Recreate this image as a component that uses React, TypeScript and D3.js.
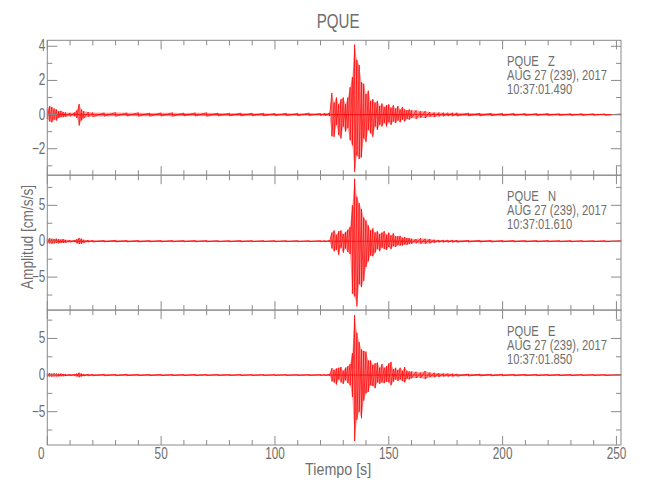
import React from 'react';
import * as d3 from 'd3';

// ---------- DATA ----------
const stationName = 'PQUE';
const components = ['Z', 'N', 'E'];
const startTimes = ['10:37:01.490', '10:37:01.610', '10:37:01.850'];
const dateLabel = 'AUG 27 (239), 2017';
const xLabel = 'Tiempo [s]';
const yLabel = 'Amplitud [cm/s/s]';

const timeDomain = [0, 252];
const xMajorTicks = [0, 50, 100, 150, 200, 250];
const xMajorLabels = ['0', '50', '100', '150', '200', '250'];
const xMinorTicks = [10, 20, 30, 40, 60, 70, 80, 90, 110, 120, 130, 140, 160, 170, 180, 190, 210, 220, 230, 240];

const zDomain = [-3.55, 4.35];
const zMajorTicks = [-2, 0, 2, 4];
const zMajorLabels = ['−2', '0', '2', '4'];
const zMinorTicks = [-3, -1, 1, 3];

const nDomain = [-9.6, 9.2];
const eDomain = [-9.55, 8.87];
const neMajorTicks = [-5, 0, 5];
const neMajorLabels = ['−5', '0', '5'];
const neMinorTicks = [-7.5, -2.5, 2.5, 7.5];

// envelope of each trace: [time (s), max, min]
const zTrace = [
  [0, 0.30, -0.25], [1, 0.50, -0.40], [2, 0.45, -0.45], [3, 0.35, -0.30], [4, 0.30, -0.35],
  [5, 0.20, -0.20], [6, 0.22, -0.15], [7, 0.15, -0.15], [8, 0.12, -0.12], [10, 0.10, -0.10],
  [12, 0.12, -0.10], [13, 0.25, -0.20], [14, 0.62, -0.64], [15, 0.30, -0.35], [16, 0.20, -0.22],
  [18, 0.15, -0.12], [20, 0.12, -0.12], [25, 0.10, -0.10], [30, 0.12, -0.10], [35, 0.10, -0.09],
  [40, 0.11, -0.10], [45, 0.09, -0.10], [50, 0.10, -0.09], [55, 0.11, -0.10], [60, 0.09, -0.08],
  [65, 0.10, -0.09], [70, 0.11, -0.10], [75, 0.09, -0.08], [80, 0.08, -0.08], [85, 0.09, -0.08],
  [90, 0.08, -0.07], [95, 0.08, -0.08], [100, 0.07, -0.07], [105, 0.08, -0.07], [110, 0.07, -0.07],
  [115, 0.09, -0.06], [120, 0.07, -0.06], [122, 0.08, -0.07], [124, 0.10, -0.08],
  [125, 1.27, -1.27], [126, 0.70, -1.30], [127, 1.00, -0.60], [128, 0.60, -1.20], [129, 0.90, -1.40],
  [130, 1.00, -0.70], [131, 0.60, -1.00], [132, 1.00, -0.80], [133, 1.60, -1.50], [134, 2.20, -1.80],
  [135, 4.10, -3.35], [136, 3.20, -2.40], [137, 2.90, -2.60], [138, 1.90, -2.50], [139, 1.80, -1.40],
  [140, 1.20, -1.60], [141, 1.40, -0.90], [142, 0.80, -1.10], [143, 0.90, -1.30], [144, 0.70, -0.70],
  [145, 0.80, -0.90], [146, 0.50, -0.60], [147, 0.65, -0.70], [148, 0.45, -0.50], [149, 0.55, -0.70],
  [150, 0.60, -0.45], [151, 0.40, -0.60], [152, 0.55, -0.40], [153, 0.35, -0.50], [154, 0.50, -0.35],
  [155, 0.30, -0.45], [156, 0.45, -0.30], [157, 0.30, -0.40], [158, 0.25, -0.25], [159, 0.30, -0.30],
  [160, 0.25, -0.20], [162, 0.25, -0.25], [164, 0.20, -0.18], [166, 0.20, -0.20], [168, 0.15, -0.13],
  [170, 0.12, -0.15], [172, 0.12, -0.10], [174, 0.11, -0.10], [176, 0.10, -0.09], [178, 0.10, -0.09],
  [180, 0.10, -0.09], [185, 0.09, -0.08], [190, 0.08, -0.08], [195, 0.08, -0.07], [200, 0.07, -0.07],
  [205, 0.07, -0.06], [210, 0.06, -0.06], [215, 0.06, -0.06], [220, 0.06, -0.05], [225, 0.05, -0.05],
  [230, 0.05, -0.05], [235, 0.05, -0.05], [240, 0.05, -0.04], [245, 0.04, -0.04], [252, 0.04, -0.04],
];

const nTrace = [
  [0, 0.30, -0.30], [1, 0.40, -0.30], [2, 0.35, -0.35], [3, 0.30, -0.30], [4, 0.35, -0.25],
  [5, 0.30, -0.30], [6, 0.25, -0.25], [7, 0.30, -0.25], [8, 0.20, -0.20], [10, 0.15, -0.15],
  [12, 0.15, -0.12], [13, 0.30, -0.30], [14, 0.45, -0.40], [15, 0.35, -0.35], [16, 0.20, -0.20],
  [18, 0.15, -0.12], [20, 0.12, -0.12], [25, 0.10, -0.10], [30, 0.12, -0.10], [35, 0.10, -0.10],
  [40, 0.10, -0.10], [45, 0.09, -0.09], [50, 0.10, -0.09], [55, 0.09, -0.09], [60, 0.09, -0.08],
  [65, 0.10, -0.09], [70, 0.09, -0.09], [75, 0.08, -0.08], [80, 0.08, -0.08], [85, 0.09, -0.08],
  [90, 0.08, -0.08], [95, 0.08, -0.07], [100, 0.08, -0.08], [105, 0.07, -0.07], [110, 0.08, -0.07],
  [115, 0.07, -0.07], [120, 0.08, -0.07], [122, 0.08, -0.08], [124, 0.10, -0.10],
  [125, 1.20, -1.00], [126, 1.50, -1.40], [127, 0.90, -1.20], [128, 1.40, -1.90], [129, 1.50, -0.90],
  [130, 1.00, -1.60], [131, 1.30, -1.00], [132, 1.60, -1.50], [133, 2.00, -1.80], [134, 5.00, -7.30],
  [135, 8.70, -7.70], [136, 6.20, -9.10], [137, 5.30, -6.00], [138, 4.50, -6.40], [139, 3.30, -5.50],
  [140, 2.90, -3.60], [141, 2.20, -2.80], [142, 1.50, -2.00], [143, 1.80, -2.10], [144, 1.20, -1.60],
  [145, 1.40, -1.10], [146, 1.00, -1.40], [147, 1.20, -0.90], [148, 1.40, -1.10], [149, 0.90, -1.20],
  [150, 1.20, -0.80], [151, 0.80, -1.10], [152, 1.10, -0.70], [153, 0.70, -0.80], [154, 0.70, -0.55],
  [155, 0.75, -0.60], [156, 0.50, -0.60], [157, 0.60, -0.45], [158, 0.45, -0.50], [159, 0.45, -0.40],
  [160, 0.35, -0.35], [162, 0.30, -0.30], [164, 0.40, -0.35], [166, 0.35, -0.35], [168, 0.30, -0.30],
  [170, 0.20, -0.20], [172, 0.16, -0.15], [174, 0.15, -0.15], [176, 0.15, -0.14], [178, 0.14, -0.14],
  [180, 0.13, -0.13], [185, 0.12, -0.12], [190, 0.12, -0.11], [195, 0.11, -0.11], [200, 0.10, -0.10],
  [205, 0.10, -0.10], [210, 0.09, -0.09], [215, 0.09, -0.09], [220, 0.09, -0.08], [225, 0.08, -0.08],
  [230, 0.08, -0.08], [235, 0.08, -0.07], [240, 0.07, -0.07], [245, 0.07, -0.07], [252, 0.07, -0.06],
];

const eTrace = [
  [0, 0.20, -0.20], [1, 0.25, -0.20], [2, 0.20, -0.22], [3, 0.22, -0.18], [4, 0.20, -0.20],
  [5, 0.18, -0.18], [6, 0.20, -0.15], [7, 0.15, -0.15], [8, 0.12, -0.12], [10, 0.10, -0.10],
  [12, 0.10, -0.10], [13, 0.20, -0.20], [14, 0.32, -0.30], [15, 0.20, -0.20], [16, 0.12, -0.12],
  [18, 0.10, -0.10], [20, 0.10, -0.10], [25, 0.10, -0.09], [30, 0.09, -0.09], [35, 0.10, -0.09],
  [40, 0.09, -0.08], [45, 0.08, -0.08], [50, 0.09, -0.08], [55, 0.08, -0.08], [60, 0.08, -0.08],
  [65, 0.09, -0.08], [70, 0.08, -0.07], [75, 0.08, -0.07], [80, 0.07, -0.07], [85, 0.08, -0.07],
  [90, 0.07, -0.07], [95, 0.07, -0.07], [100, 0.07, -0.06], [105, 0.07, -0.06], [110, 0.06, -0.06],
  [115, 0.07, -0.06], [120, 0.06, -0.06], [122, 0.07, -0.06], [124, 0.10, -0.10],
  [125, 0.95, -0.86], [126, 0.70, -1.00], [127, 0.90, -1.30], [128, 1.00, -0.60], [129, 1.10, -1.00],
  [130, 0.60, -1.20], [131, 1.00, -0.70], [132, 1.20, -1.10], [133, 1.50, -1.40], [134, 3.00, -3.00],
  [135, 8.20, -9.00], [136, 5.80, -6.10], [137, 4.50, -5.00], [138, 3.50, -5.90], [139, 3.30, -3.50],
  [140, 3.20, -2.50], [141, 2.00, -2.30], [142, 2.00, -1.40], [143, 1.40, -1.50], [144, 1.60, -1.80],
  [145, 1.70, -1.00], [146, 1.00, -1.20], [147, 1.50, -1.00], [148, 1.00, -1.10], [149, 1.20, -0.90],
  [150, 1.60, -1.00], [151, 1.80, -1.40], [152, 0.80, -0.90], [153, 1.00, -0.60], [154, 0.70, -0.80],
  [155, 1.00, -0.60], [156, 0.60, -0.80], [157, 1.10, -1.00], [158, 0.60, -0.50], [159, 0.50, -0.60],
  [160, 0.50, -0.45], [162, 0.45, -0.40], [164, 0.35, -0.40], [166, 0.55, -0.55], [168, 0.35, -0.30],
  [170, 0.30, -0.30], [172, 0.25, -0.25], [174, 0.22, -0.20], [176, 0.20, -0.20], [178, 0.18, -0.18],
  [180, 0.16, -0.16], [185, 0.14, -0.14], [190, 0.13, -0.12], [195, 0.12, -0.12], [200, 0.11, -0.11],
  [205, 0.10, -0.10], [210, 0.10, -0.09], [215, 0.09, -0.09], [220, 0.09, -0.08], [225, 0.08, -0.08],
  [230, 0.08, -0.08], [235, 0.08, -0.07], [240, 0.07, -0.07], [245, 0.07, -0.07], [252, 0.07, -0.06],
];

// ---------- LAYOUT ----------
const W = 650;
const H = 500;
const plotLeft = 47.3;
const plotRight = 621;
const plotTop = 40.3;
const plotBottom = 445;
const AXIS = '#8a8a8a';
const TEXT = '#6e6e6e';
const RED = '#ff0000';
const FONT = '"Liberation Sans", "DejaVu Sans Condensed", sans-serif';

const panels = [
  { comp: components[0], time: startTimes[0], trace: zTrace, domain: zDomain, major: zMajorTicks, majorLabels: zMajorLabels, minor: zMinorTicks },
  { comp: components[1], time: startTimes[1], trace: nTrace, domain: nDomain, major: neMajorTicks, majorLabels: neMajorLabels, minor: neMinorTicks },
  { comp: components[2], time: startTimes[2], trace: eTrace, domain: eDomain, major: neMajorTicks, majorLabels: neMajorLabels, minor: neMinorTicks },
];

function NText(props: { x: number; y: number; anchor?: string; size: number; children: any; rotate?: number; sx?: number }) {
  const { x, y, anchor = 'start', size, children, rotate = 0, sx = 0.84 } = props;
  return (
    <text
      transform={`translate(${x},${y}) rotate(${rotate}) scale(${sx},1.12)`}
      textAnchor={anchor}
      fontSize={size}
      fill={TEXT}
      style={{ whiteSpace: 'pre' }}
    >
      {children}
    </text>
  );
}

export default function App() {
  const x = d3.scaleLinear().domain(timeDomain).range([plotLeft, plotRight]);
  const panelH = (plotBottom - plotTop) / panels.length;

  return (
    <svg
      width={W}
      height={H}
      style={{ position: 'absolute', left: 0, top: 0, background: '#fff' }}
      fontFamily={FONT}
    >
      <NText x={(plotLeft + plotRight) / 2 + 4} y={28} anchor="middle" size={18}>
        {stationName}
      </NText>
      {panels.map((p, pi) => {
        const top = plotTop + pi * panelH;
        const bottom = top + panelH;
        const y = d3.scaleLinear().domain(p.domain).range([bottom, top]);
        const area = d3
          .area<number[]>()
          .x((d) => x(d[0]))
          .y0((d) => y(d[2]))
          .y1((d) => y(d[1]));
        let zig = '';
        p.trace.forEach((d, i) => {
          zig += `${i === 0 ? 'M' : 'L'}${x(d[0]).toFixed(2)},${y(d[1]).toFixed(2)}L${x(d[0]).toFixed(2)},${y(d[2]).toFixed(2)}`;
        });
        return (
          <g key={p.comp}>
            <path d={area(p.trace as any) || ''} fill={RED} fillOpacity={0.4} stroke="none" />
            <path d={zig} fill="none" stroke={RED} strokeWidth={0.7} />
            <line x1={plotLeft} x2={plotRight} y1={y(0)} y2={y(0)} stroke={RED} strokeWidth={0.8} />
            <rect x={plotLeft} y={top} width={plotRight - plotLeft} height={panelH} fill="none" stroke={AXIS} strokeWidth={1} />
            {xMajorTicks.map((t) => (
              <g key={'xm' + t}>
                <line x1={x(t)} x2={x(t)} y1={top} y2={top + 9} stroke={AXIS} />
                <line x1={x(t)} x2={x(t)} y1={bottom} y2={bottom - 9} stroke={AXIS} />
              </g>
            ))}
            {xMinorTicks.map((t) => (
              <g key={'xn' + t}>
                <line x1={x(t)} x2={x(t)} y1={top} y2={top + 5} stroke={AXIS} />
                <line x1={x(t)} x2={x(t)} y1={bottom} y2={bottom - 5} stroke={AXIS} />
              </g>
            ))}
            {p.major.map((v, i) => (
              <g key={'ym' + v}>
                <line x1={plotLeft} x2={plotLeft + 10} y1={y(v)} y2={y(v)} stroke={AXIS} />
                <line x1={plotRight} x2={plotRight - 10} y1={y(v)} y2={y(v)} stroke={AXIS} />
                <NText x={plotLeft - 2} y={y(v) + 5} anchor="end" size={14}>
                  {p.majorLabels[i]}
                </NText>
              </g>
            ))}
            {p.minor.map((v) => (
              <g key={'yn' + v}>
                <line x1={plotLeft} x2={plotLeft + 5} y1={y(v)} y2={y(v)} stroke={AXIS} />
                <line x1={plotRight} x2={plotRight - 5} y1={y(v)} y2={y(v)} stroke={AXIS} />
              </g>
            ))}
            <NText x={507} y={top + 26} size={13} sx={0.86}>{`${stationName}   ${p.comp}`}</NText>
            <NText x={507} y={top + 40} size={13} sx={0.86}>{dateLabel}</NText>
            <NText x={507} y={top + 54} size={13} sx={0.86}>{p.time}</NText>
          </g>
        );
      })}
      {xMajorTicks.map((t, i) => (
        <NText key={'xl' + t} x={x(t) + (t === 0 ? -6 : 0)} y={458.5} anchor="middle" size={14}>
          {xMajorLabels[i]}
        </NText>
      ))}
      <NText x={(plotLeft + plotRight) / 2 + 4} y={475} anchor="middle" size={14} sx={1.02}>
        {xLabel}
      </NText>
      <NText x={33} y={237} anchor="middle" size={14} sx={0.98} rotate={-90}>
        {yLabel}
      </NText>
    </svg>
  );
}
